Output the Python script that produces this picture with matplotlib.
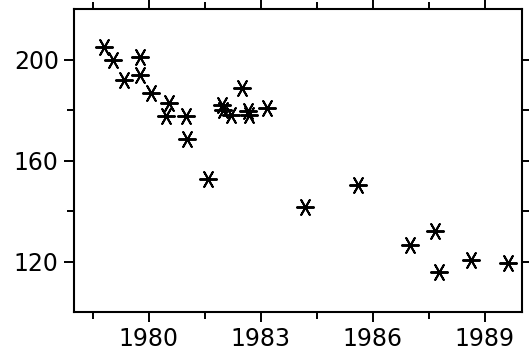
import matplotlib
matplotlib.use("Agg")
import matplotlib.pyplot as plt
from matplotlib.ticker import FixedLocator

years = [1978.79, 1979.04, 1979.76, 1979.34, 1979.77, 1980.06, 1980.54, 1980.47,
         1981.01, 1981.03, 1981.58, 1981.95, 1981.98, 1982.2, 1982.5, 1982.66,
         1982.68, 1983.18, 1984.18, 1985.6, 1987.0, 1987.66, 1987.78, 1988.63,
         1989.63]
values = [205.0, 199.7, 201.1, 191.8, 193.7, 186.8, 182.8, 177.5,
          177.5, 168.6, 152.5, 182.0, 180.0, 178.2, 188.7, 179.8,
          178.0, 180.9, 141.7, 150.5, 126.6, 131.9, 115.8, 120.8,
          119.5]
x_major = [1980, 1983, 1986, 1989]
x_minor = [1978.5, 1981.5, 1984.5, 1987.5]
y_major = [120, 160, 200]
y_minor = [140, 180]

fig = plt.figure(figsize=(5.29, 3.52), dpi=100)
ax = fig.add_axes([0.140, 0.1136, 0.847, 0.8606])
ax.scatter(years, values, marker=(6, 2, 90), s=150, color="black", linewidths=1.4)
ax.set_xlim(1978, 1990)
ax.set_ylim(100, 220)
ax.xaxis.set_major_locator(FixedLocator(x_major))
ax.xaxis.set_minor_locator(FixedLocator(x_minor))
ax.yaxis.set_major_locator(FixedLocator(y_major))
ax.yaxis.set_minor_locator(FixedLocator(y_minor))
ax.set_xticklabels([str(v) for v in x_major])
ax.set_yticklabels([str(v) for v in y_major])
for s in ax.spines.values():
    s.set_linewidth(1.5)
ax.tick_params(which="both", direction="out", top=True, right=True, width=1.4,
               labelsize=17, pad=4)
ax.tick_params(which="major", length=7)
ax.tick_params(which="minor", length=5)
fig.savefig("out.png", dpi=100)
